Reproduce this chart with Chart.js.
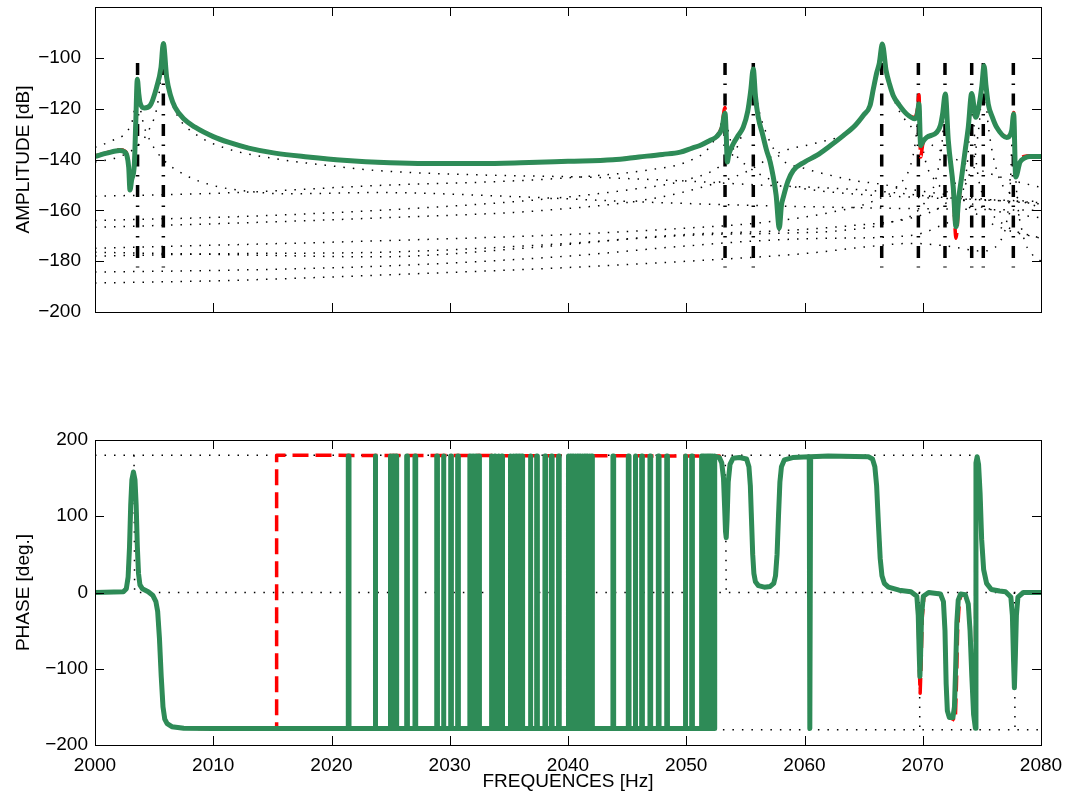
<!DOCTYPE html>
<html>
<head>
<meta charset="utf-8">
<script src="https://cdn.jsdelivr.net/npm/chart.js@4.4.1/dist/chart.umd.min.js"></script>
<style>
    html, body { margin: 0; padding: 0; background: #fff; }
    #wrap { position: relative; width: 1071px; height: 804px; }
    #ampChart { position: absolute; left: 0; top: 0; }
    #phaseChart { position: absolute; left: 0; top: 420px; }
</style>
</head>
<body>
<div id="wrap">
    <canvas id="ampChart" width="1071" height="330"></canvas>
    <canvas id="phaseChart" width="1071" height="384"></canvas>
</div>
<script>
// tick values
const freqTicks = [2000, 2010, 2020, 2030, 2040, 2050, 2060, 2070, 2080];
const ampTicks = [-200, -180, -160, -140, -120, -100];
const phaseTicks = [-200, -100, 0, 100, 200];

// identified mode frequencies (dash-dot markers)
const modeFreqs = [2003.6, 2005.78, 2053.28, 2055.67, 2066.53, 2069.63, 2071.88, 2074.14, 2075.12, 2077.66];
const modeLineTop = -102;
const modeLineBottom = -182.5;

// measured amplitude [Hz, dB]
const ampMeasured = [[2000,-138.8],[2001,-137.5],[2002.1,-136.5],[2002.5,-137],[2002.7,-138.5],[2002.85,-143],[2002.96,-152],[2003.1,-148],[2003.33,-141.7],[2003.45,-125],[2003.58,-108.4],[2003.7,-114],[2003.8,-117.5],[2004.17,-119.7],[2004.65,-118.8],[2005.21,-111.6],[2005.58,-103.8],[2005.78,-94.4],[2006.06,-107.7],[2006.4,-115],[2006.77,-119.5],[2007.5,-124],[2008.46,-127.3],[2010,-131],[2011.27,-133.2],[2013,-135.5],[2015.22,-137.5],[2018,-139],[2021,-140.3],[2024.95,-141.3],[2028,-141.6],[2032.56,-141.6],[2036,-141.3],[2040,-140.7],[2043.8,-140.1],[2046,-139],[2048,-138],[2049.5,-137.1],[2050.5,-135.5],[2051.16,-134.5],[2052,-132.5],[2052.57,-131],[2053,-128],[2053.28,-121.8],[2053.38,-130],[2053.47,-141],[2053.6,-138],[2053.98,-133.8],[2054.4,-130.5],[2054.82,-127.3],[2055.2,-121],[2055.45,-113],[2055.67,-104.4],[2055.85,-115],[2056.09,-123.4],[2056.45,-130],[2056.8,-136.5],[2057.1,-141],[2057.36,-146.9],[2057.6,-154],[2057.87,-167],[2058.05,-158],[2058.21,-154.8],[2058.6,-148.5],[2059.05,-144.3],[2060,-141],[2061.03,-138.4],[2062.2,-134.5],[2063.28,-130.6],[2064.3,-126.5],[2065,-122.5],[2065.54,-118.8],[2065.82,-112.3],[2066.1,-106],[2066.33,-102],[2066.58,-94.6],[2066.9,-105],[2067.2,-110.5],[2067.51,-114.9],[2068,-118.5],[2068.64,-122.1],[2069.34,-124],[2069.55,-122],[2069.68,-118.2],[2069.82,-134.5],[2070,-133],[2070.33,-131.3],[2071.18,-129.3],[2071.5,-126.5],[2071.68,-122.1],[2071.91,-114.2],[2072.16,-132.5],[2072.58,-150.9],[2072.81,-166.5],[2073.05,-155],[2073.29,-146.9],[2073.6,-136],[2073.85,-127.3],[2074.14,-114],[2074.48,-123.4],[2074.78,-118.2],[2075,-111],[2075.18,-103.1],[2075.35,-111],[2075.54,-118.2],[2075.9,-123.5],[2076.25,-127.3],[2077.1,-131.3],[2077.52,-128.6],[2077.69,-122.1],[2077.86,-146.9],[2078.22,-141.1],[2078.6,-139.5],[2079.07,-138.8],[2080,-138.8]];

// synthesized amplitude [Hz, dB]
const ampModel = [[2000,-138.6],[2001,-137.3],[2002.1,-136.2],[2002.5,-136.6],[2002.7,-138],[2002.85,-143],[2002.96,-151],[2003.1,-148],[2003.33,-141.7],[2003.45,-125],[2003.58,-108.4],[2003.7,-114],[2003.8,-117.5],[2004.17,-119.7],[2004.65,-118.8],[2005.21,-111.6],[2005.58,-103.8],[2005.78,-94.4],[2006.06,-107.7],[2006.4,-115],[2006.77,-119.5],[2007.5,-124],[2008.46,-127.3],[2010,-131],[2011.27,-133.2],[2013,-135.5],[2015.22,-137.5],[2018,-139],[2021,-140.3],[2024.95,-141.3],[2028,-141.6],[2032.56,-141.6],[2036,-141.3],[2040,-140.7],[2043.8,-140.1],[2046,-139],[2048,-138],[2049.5,-137.1],[2050.5,-135.5],[2051.16,-134.5],[2052,-132.5],[2052.57,-131],[2053,-127],[2053.28,-119.5],[2053.38,-130],[2053.47,-140],[2053.6,-138],[2053.98,-133.8],[2054.4,-130.5],[2054.82,-127.3],[2055.2,-121],[2055.45,-113],[2055.67,-104.4],[2055.85,-115],[2056.09,-123.4],[2056.45,-130],[2056.8,-136.5],[2057.1,-141],[2057.36,-146.9],[2057.6,-154],[2057.87,-166],[2058.05,-158],[2058.21,-154.8],[2058.6,-148.5],[2059.05,-144.3],[2060,-141],[2061.03,-138.4],[2062.2,-134.5],[2063.28,-130.6],[2064.3,-126.5],[2065,-122.5],[2065.54,-118.8],[2065.82,-112.3],[2066.1,-106],[2066.33,-102],[2066.58,-94.6],[2066.9,-105],[2067.2,-110.5],[2067.51,-114.9],[2068,-118.5],[2068.64,-122.1],[2069.34,-123.5],[2069.55,-120],[2069.68,-114.5],[2069.82,-139],[2070,-134],[2070.33,-131.3],[2071.18,-129.3],[2071.5,-126.5],[2071.68,-122.1],[2071.91,-114.2],[2072.16,-132.5],[2072.58,-152],[2072.81,-171],[2073.05,-157],[2073.29,-146.9],[2073.6,-136],[2073.85,-127.3],[2074.14,-114],[2074.48,-123.4],[2074.78,-118.2],[2075,-111],[2075.18,-103.1],[2075.35,-111],[2075.54,-118.2],[2075.9,-123.5],[2076.25,-127.3],[2077.1,-131],[2077.52,-128],[2077.69,-121.5],[2077.86,-145],[2078.22,-140],[2078.6,-138.8],[2079.07,-138.5],[2080,-138.6]];

// single-mode contributions (dotted) [Hz, dB]
const modeA = [[2000,-135.2],[2001.5,-132.5],[2002.7,-129],[2003.2,-124],[2003.45,-116],[2003.6,-110],[2003.75,-117],[2004.1,-126],[2004.7,-133],[2005.3,-137.5],[2006.1,-141.5],[2007,-144.5],[2008.5,-148],[2010.5,-150.8],[2013,-152.5],[2016,-153.5],[2024,-153],[2035,-154.5],[2045,-156.5],[2055,-158],[2065,-159],[2080,-160]];
const modeB = [[2000,-141],[2002,-139],[2003.5,-135],[2004.6,-128],[2005.3,-118],[2005.6,-106],[2005.78,-96],[2006,-106],[2006.4,-116],[2007,-123],[2008.5,-130],[2011,-135.5],[2015,-139.5],[2020,-142.5],[2024,-144.4],[2032,-146],[2042,-147],[2050,-148.5],[2056,-150],[2065,-152],[2072,-155],[2080,-157]];
const modeC = [[2000,-154.5],[2012,-153],[2024,-150.2],[2035,-148.5],[2042,-146.5],[2047,-144],[2050,-141],[2052,-135],[2052.8,-128],[2053.28,-122],[2053.6,-130],[2054.2,-138],[2055,-142],[2056.5,-146.5],[2058,-149.4],[2060,-151.5],[2064,-153.5],[2070,-155],[2080,-156.5]];
const modeD = [[2000,-164],[2012,-162.5],[2024,-160],[2037,-156],[2045,-152],[2050,-148],[2053,-142],[2054.5,-133],[2055.3,-118],[2055.67,-104.5],[2056,-117],[2056.8,-130],[2058,-139.6],[2060,-143.5],[2062,-146],[2064.5,-148.5],[2066,-149.4],[2070,-152.5],[2075,-155.5],[2080,-157.5]];
const modeE = [[2000,-166.7],[2012,-165],[2024,-163],[2038,-160],[2047,-155.5],[2052,-150],[2055,-145],[2058,-137],[2061,-133.5],[2063.6,-129.3],[2065.2,-121],[2066,-110],[2066.53,-95],[2067,-108],[2067.8,-119],[2069,-127],[2071,-135],[2074,-142.5],[2077,-147.5],[2080,-151]];
const modeF = [[2000,-174.9],[2012,-173.5],[2024,-172],[2040,-169.5],[2050,-167],[2056,-165],[2062,-161],[2066,-156],[2068,-150],[2069.1,-140],[2069.5,-128],[2069.63,-119],[2069.8,-128],[2070.2,-140],[2071,-148],[2073,-155],[2076,-160],[2080,-163]];
const modeG = [[2000,-176.5],[2012,-177.5],[2024,-178.3],[2036,-175],[2046,-171],[2052,-169.5],[2058,-169],[2063,-168],[2067,-165],[2070,-158],[2071.2,-146],[2071.7,-130],[2071.88,-115],[2072.1,-132],[2072.6,-147],[2073.5,-156],[2075,-163],[2077,-167.5],[2080,-171]];
const modeH = [[2000,-184.3],[2012,-183.5],[2024,-182],[2040,-178],[2050,-174],[2056,-172],[2062,-171],[2067,-170.5],[2071,-167],[2073,-158],[2073.8,-140],[2074.14,-115],[2074.5,-140],[2075.5,-158],[2077,-166],[2080,-171]];
const modeI = [[2000,-178],[2012,-177],[2024,-176.5],[2040,-173],[2050,-169.5],[2058,-168],[2064,-166],[2069,-163],[2072,-157],[2074,-145],[2074.8,-125],[2075.12,-104],[2075.5,-125],[2076.3,-145],[2078,-155],[2080,-159]];
const modeJ = [[2000,-188.6],[2012,-187.5],[2024,-185.5],[2040,-182.5],[2052,-179.5],[2060,-177],[2066,-174],[2069,-173],[2072,-174],[2075,-176],[2076.8,-170],[2077.4,-150],[2077.66,-123],[2077.9,-150],[2078.5,-170],[2079.2,-177],[2080,-180]];

// measured phase [Hz, deg]
const phaseLow = -178.5;
const phaseHigh = 179;
const phaseMeasuredStart = [[2000,0],[2002.4,1],[2002.65,5],[2002.8,20],[2002.92,60],[2003.02,115],[2003.12,148],[2003.25,158],[2003.38,148],[2003.48,115],[2003.58,60],[2003.68,25],[2003.8,10],[2004,5],[2004.5,1],[2004.9,-4],[2005.15,-12],[2005.3,-25],[2005.45,-60],[2005.6,-110],[2005.75,-150],[2005.9,-166],[2006.1,-172],[2006.5,-176],[2007.5,-178],[2010,-178.5]];
// frequencies where the measured phase wraps to +180 and back
const phaseWraps = [2021.42, 2023.68, 2024.95, 2025.2, 2025.45, 2026.36, 2027.06, 2028.9, 2029.45, 2030.08, 2030.67, 2031.7, 2031.95, 2032.2, 2032.45, 2033.5, 2033.8, 2034.1, 2034.4, 2035.1, 2035.35, 2035.6, 2035.85, 2036.1, 2036.8, 2037.35, 2038.05, 2038.6, 2039.2, 2040.0, 2040.2, 2040.4, 2040.6, 2040.8, 2041.0, 2041.2, 2041.4, 2041.6, 2041.8, 2042.0, 2043.8, 2045.1, 2045.67, 2046.23, 2046.93, 2047.64, 2048.35, 2049.9, 2050.46, 2051.3, 2051.45, 2051.6, 2051.75, 2051.9, 2052.05, 2052.2, 2052.35];
const wrapSpan = 0.06;
const phaseMeasuredEnd = [[2052.43,-178.5],[2052.43,179],[2052.8,177],[2053.0,170],[2053.15,150],[2053.25,110],[2053.32,80],[2053.38,72],[2053.45,95],[2053.55,145],[2053.7,168],[2053.95,176],[2054.5,177],[2055.1,175],[2055.3,165],[2055.42,140],[2055.52,95],[2055.62,50],[2055.72,25],[2055.85,14],[2056.1,9],[2056.6,7],[2057.1,8],[2057.4,12],[2057.55,22],[2057.68,50],[2057.8,100],[2057.92,145],[2058.05,165],[2058.3,174],[2059,177],[2060.4,178],[2060.45,-178.5],[2060.52,178],[2062,179],[2065.4,178],[2065.75,175],[2065.95,165],[2066.1,140],[2066.25,90],[2066.4,45],[2066.55,22],[2066.75,12],[2067.1,7],[2068,3],[2069,1],[2069.5,-5],[2069.62,-30],[2069.7,-80],[2069.76,-110],[2069.82,-80],[2069.9,-30],[2070.05,-5],[2070.5,0],[2071.5,-2],[2071.75,-12],[2071.88,-50],[2071.98,-120],[2072.08,-155],[2072.25,-164],[2072.55,-164],[2072.68,-150],[2072.78,-100],[2072.88,-40],[2073,-10],[2073.2,-2],[2073.6,-3],[2073.85,-15],[2074,-50],[2074.15,-110],[2074.3,-160],[2074.45,-178],[2074.5,170],[2074.6,178],[2074.72,168],[2074.85,130],[2074.98,70],[2075.15,30],[2075.4,12],[2075.8,4],[2076.5,2],[2077,1],[2077.45,-6],[2077.58,-30],[2077.68,-90],[2077.75,-125],[2077.82,-90],[2077.92,-30],[2078.05,-6],[2078.5,0],[2080,0]];

// synthesized phase [Hz, deg]
const phaseModel = [[2000,0],[2002.4,1],[2002.65,5],[2002.8,20],[2002.92,60],[2003.02,112],[2003.12,145],[2003.25,155],[2003.38,145],[2003.48,112],[2003.58,60],[2003.68,25],[2003.8,10],[2004,5],[2004.5,1],[2004.9,-4],[2005.15,-12],[2005.3,-25],[2005.45,-60],[2005.6,-110],[2005.75,-150],[2005.9,-166],[2006.1,-172],[2006.5,-176],[2007.5,-178],[2010,-178.5],[2015.36,-178.5],[2015.36,180],[2052.8,179],[2053.0,170],[2053.15,150],[2053.25,110],[2053.32,80],[2053.38,72],[2053.45,95],[2053.55,145],[2053.7,168],[2053.95,176],[2054.5,177],[2055.1,175],[2055.3,165],[2055.42,140],[2055.52,95],[2055.62,50],[2055.72,25],[2055.85,14],[2056.1,9],[2056.6,7],[2057.1,8],[2057.4,12],[2057.55,22],[2057.68,50],[2057.8,100],[2057.92,145],[2058.05,165],[2058.3,174],[2059,177],[2062,179],[2065.4,178],[2065.75,175],[2065.95,165],[2066.1,140],[2066.25,90],[2066.4,45],[2066.55,22],[2066.75,12],[2067.1,7],[2068,3],[2069,1],[2069.5,-5],[2069.62,-35],[2069.7,-95],[2069.78,-132],[2069.86,-95],[2069.95,-35],[2070.1,-5],[2070.5,0],[2071.5,-2],[2071.75,-12],[2071.88,-50],[2071.98,-120],[2072.08,-155],[2072.25,-164],[2072.55,-166],[2072.75,-168],[2072.85,-120],[2072.95,-50],[2073.1,-10],[2073.3,-2],[2073.6,-3],[2073.85,-15],[2074,-50],[2074.15,-110],[2074.3,-160],[2074.45,-178],[2074.5,170],[2074.6,178],[2074.72,168],[2074.85,130],[2074.98,70],[2075.15,30],[2075.4,12],[2075.8,4],[2076.5,2],[2077,1],[2077.45,-6],[2077.58,-30],[2077.68,-90],[2077.75,-125],[2077.82,-90],[2077.92,-30],[2078.05,-6],[2078.5,0],[2080,0]];

// single-mode phases (dotted)
const phaseModeTop = [[2000,180],[2074.4,180]];
const phaseModeZero = [[2003.3,180],[2003.35,0],[2080,0]];
const phaseModeC = [[2053.3,180],[2053.38,0]];
const phaseModeBottom = [[2053.1,-180],[2080,-180]];
const phaseModeF = [[2069.7,0],[2069.75,-180]];
const phaseModeJ = [[2077.75,0],[2077.8,-180]];

const GREEN = '#2e8b57';
const RED = '#ff0000';
const DOTS = [1.5, 8];

Chart.defaults.font.family = '"Liberation Sans", Arial, Helvetica, sans-serif';
Chart.defaults.color = '#000';

function fmt(v) {
    return v < 0 ? '\u2212' + Math.abs(v) : String(v);
}

function line(data, color, width, dash, order, smooth) {
    return {
        data: data,
        borderColor: color,
        borderWidth: width,
        borderDash: dash || [],
        pointRadius: 0,
        fill: false,
        order: order,
        tension: 0,
        cubicInterpolationMode: smooth ? 'monotone' : 'default',
        borderJoinStyle: 'round'
    };
}

// MATLAB style box with inward ticks on all four sides
const boxAxes = {
    id: 'boxAxes',
    afterDatasetsDraw(chart) {
        const { ctx, chartArea: a, scales: { x, y } } = chart;
        const len = 9;
        ctx.save();
        ctx.strokeStyle = '#000';
        ctx.lineWidth = 1;
        ctx.beginPath();
        x.ticks.forEach(t => {
            const px = Math.round(x.getPixelForValue(t.value)) + 0.5;
            ctx.moveTo(px, a.bottom); ctx.lineTo(px, a.bottom - len);
            ctx.moveTo(px, a.top); ctx.lineTo(px, a.top + len);
        });
        y.ticks.forEach(t => {
            const py = Math.round(y.getPixelForValue(t.value)) + 0.5;
            ctx.moveTo(a.left, py); ctx.lineTo(a.left + len, py);
            ctx.moveTo(a.right, py); ctx.lineTo(a.right - len, py);
        });
        ctx.stroke();
        ctx.strokeRect(a.left + 0.5, a.top + 0.5, a.right - a.left, a.bottom - a.top);
        ctx.restore();
    }
};

function makeOptions(cfg) {
    return {
        responsive: false,
        animation: false,
        events: [],
        layout: { padding: { left: 0, top: cfg.padTop, right: 30, bottom: 0 } },
        plugins: { legend: { display: false }, tooltip: { enabled: false } },
        scales: {
            x: {
                type: 'linear',
                min: 2000,
                max: 2080,
                grid: { display: false, drawTicks: false },
                border: { display: false },
                ticks: { display: cfg.showX, padding: 9, font: { size: 19 }, color: '#000', callback: v => String(v) },
                title: {
                    display: cfg.showX,
                    text: 'FREQUENCES [Hz]',
                    font: { size: 19 },
                    color: '#000',
                    padding: { top: 0, bottom: 11 }
                },
                afterBuildTicks: s => { s.ticks = freqTicks.map(v => ({ value: v })); },
                afterFit: s => { s.height = cfg.xHeight; s.paddingLeft = 0; s.paddingRight = 0; }
            },
            y: {
                type: 'linear',
                min: cfg.yMin,
                max: cfg.yMax,
                grid: { display: false, drawTicks: false },
                border: { display: false },
                ticks: { padding: cfg.yPad, font: { size: 19 }, color: '#000', callback: v => fmt(v) },
                title: {
                    display: true,
                    text: cfg.yTitle,
                    font: { size: 19 },
                    color: '#000',
                    padding: { top: 12, bottom: 0 }
                },
                afterBuildTicks: s => { s.ticks = cfg.yTicks.map(v => ({ value: v })); },
                afterFit: s => { s.width = 95; s.paddingTop = 0; s.paddingBottom = 0; }
            }
        }
    };
}

// amplitude chart
const ampSets = [
    line(ampMeasured, GREEN, 5, null, 0, true),
    line(ampModel, RED, 3.5, [16, 7], 1, true)
];
modeFreqs.forEach(f => {
    ampSets.push(line([[f, modeLineTop], [f, modeLineBottom]], '#000', 3.5, [12, 8.5, 1.5, 8.5], 2, false));
});
[modeA, modeB, modeC, modeD, modeE, modeF, modeG, modeH, modeI, modeJ].forEach(m => {
    ampSets.push(line(m, '#000', 1.5, DOTS, 3, true));
});

new Chart(document.getElementById('ampChart'), {
    type: 'line',
    data: { datasets: ampSets },
    options: makeOptions({ padTop: 7, showX: false, xHeight: 18, yMin: -200, yMax: -80, yTicks: ampTicks, yPad: 14, yTitle: 'AMPLITUDE [dB]' }),
    plugins: [boxAxes]
});

// phase chart
const phaseMeasured = phaseMeasuredStart.slice();
phaseWraps.forEach(f => {
    phaseMeasured.push([f, phaseLow], [f, phaseHigh], [f + wrapSpan, phaseHigh], [f + wrapSpan, phaseLow]);
});
phaseMeasured.push(...phaseMeasuredEnd);

const phaseSets = [
    line(phaseMeasured, GREEN, 5, null, 0, false),
    line(phaseModel, RED, 3.5, [16, 7], 1, false)
];
[phaseModeTop, phaseModeZero, phaseModeC, phaseModeBottom, phaseModeF, phaseModeJ].forEach(m => {
    phaseSets.push(line(m, '#000', 1.5, DOTS, 3, false));
});

new Chart(document.getElementById('phaseChart'), {
    type: 'line',
    data: { datasets: phaseSets },
    options: makeOptions({ padTop: 20, showX: true, xHeight: 59, yMin: -200, yMax: 200, yTicks: phaseTicks, yPad: 7, yTitle: 'PHASE [deg.]' }),
    plugins: [boxAxes]
});
</script>
</body>
</html>
